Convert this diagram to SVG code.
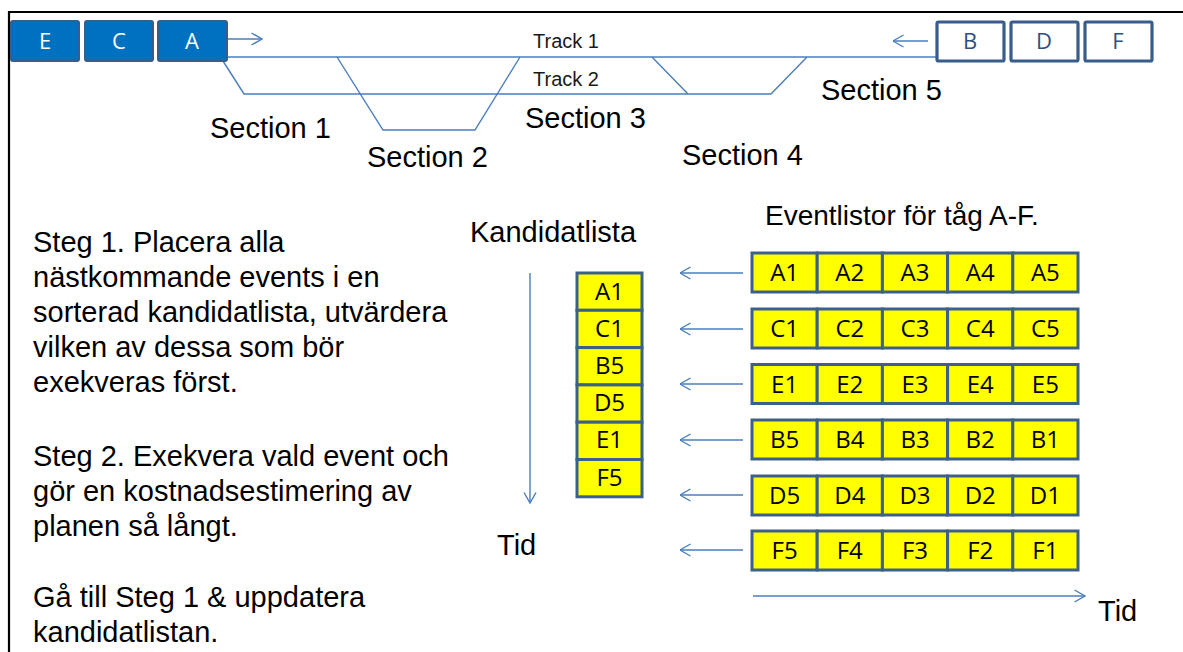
<svg xmlns="http://www.w3.org/2000/svg" width="1183" height="652" viewBox="0 0 1183 652">
<style>
.txt{font-family:"Liberation Sans",Arial,sans-serif;font-size:29px;fill:#000}
.trk{font-family:"Liberation Sans",Arial,sans-serif;font-size:20px;fill:#1a1a1a}
.ln{stroke:#4a7ebb;stroke-width:1.4;fill:none}
.arr{stroke:#4a7ebb;stroke-width:1.4;fill:none;marker-end:url(#chev)}
.bbox{fill:#0070c0;stroke:#385d8a;stroke-width:2}
.obox{fill:#fff;stroke:#385d8a;stroke-width:3.2}
.btxt{font-family:"Open Sans","Noto Sans",sans-serif;font-size:22px;fill:#fff;text-anchor:middle}
.otxt{font-family:"Open Sans","Noto Sans",sans-serif;font-size:22px;fill:#2f4f7f;text-anchor:middle}
.cell{fill:#ffff00;stroke:#3c5f8c;stroke-width:3}
.ctxt{font-family:"Open Sans","Noto Sans",sans-serif;font-size:24px;fill:#000;text-anchor:middle}
</style>
<defs>
<marker id="chev" viewBox="0 0 12 14" refX="11.5" refY="7" markerWidth="12" markerHeight="14" markerUnits="userSpaceOnUse" orient="auto">
<path d="M1,1 L11.5,7 L1,13" fill="none" stroke="#4a7ebb" stroke-width="1.4"/>
</marker>
</defs>
<rect width="1183" height="652" fill="#fff"/>
<path d="M9,652 V12 H1183" fill="none" stroke="#000" stroke-width="2.2"/>

<g id="connectors">
<path class="ln" d="M226,57 H940"/>
<path class="ln" d="M223,61 L244,94 H771 L807,57"/>
<path class="ln" d="M337,57 L383,130 H475 L520,57"/>
<path class="ln" d="M652,57 L688,94"/>
<path class="arr" d="M228,39 H262"/>
<path class="arr" d="M928,41 H893"/>
<path class="arr" d="M743,273 H680"/>
<path class="arr" d="M743,329 H680"/>
<path class="arr" d="M743,384 H680"/>
<path class="arr" d="M743,440 H680"/>
<path class="arr" d="M743,495 H680"/>
<path class="arr" d="M743,550 H680"/>
<path class="arr" d="M530,273 V503"/>
<path class="arr" d="M753,596 H1085"/>
</g>

<g id="trains-left">
<g id="train-E"><rect class="bbox" x="11" y="21" width="68" height="40" rx="2"/><text class="btxt" x="45" y="49">E</text></g>
<g id="train-C"><rect class="bbox" x="85" y="21" width="68" height="40" rx="2"/><text class="btxt" x="119" y="49">C</text></g>
<g id="train-A"><rect class="bbox" x="158" y="21" width="69" height="40" rx="2"/><text class="btxt" x="192" y="49">A</text></g>
</g>
<g id="trains-right">
<g id="train-B"><rect class="obox" x="937" y="22" width="67" height="39" rx="1.5"/><text class="otxt" x="970" y="49">B</text></g>
<g id="train-D"><rect class="obox" x="1011" y="22" width="67" height="39" rx="1.5"/><text class="otxt" x="1044" y="49">D</text></g>
<g id="train-F"><rect class="obox" x="1085" y="22" width="67" height="39" rx="1.5"/><text class="otxt" x="1118" y="49">F</text></g>
</g>

<g id="track-labels">
<text class="trk" x="533" y="48">Track 1</text>
<text class="trk" x="533" y="86">Track 2</text>
</g>
<g id="section-labels">
<text class="txt" x="210" y="138">Section 1</text>
<text class="txt" x="367" y="167">Section 2</text>
<text class="txt" x="525" y="128">Section 3</text>
<text class="txt" x="682" y="165">Section 4</text>
<text class="txt" x="821" y="100">Section 5</text>
</g>

<g id="steps">
<text class="txt" x="33" y="252">Steg 1. Placera alla</text>
<text class="txt" x="33" y="287">nästkommande events i en</text>
<text class="txt" x="33" y="322">sorterad kandidatlista, utvärdera</text>
<text class="txt" x="33" y="357">vilken av dessa som bör</text>
<text class="txt" x="33" y="392">exekveras först.</text>
<text class="txt" x="33" y="466">Steg 2. Exekvera vald event och</text>
<text class="txt" x="33" y="501">gör en kostnadsestimering av</text>
<text class="txt" x="33" y="536">planen så långt.</text>
<text class="txt" x="33" y="607">Gå till Steg 1 &amp; uppdatera</text>
<text class="txt" x="33" y="642">kandidatlistan.</text>
</g>

<g id="headers">
<text class="txt" x="470" y="242">Kandidatlista</text>
<text class="txt" x="765" y="225" style="font-size:28px">Eventlistor för tåg A-F.</text>
<text class="txt" x="497" y="555">Tid</text>
<text class="txt" x="1098" y="621">Tid</text>
</g>

<g id="kandidatlista">
<rect class="cell" x="577" y="273" width="65" height="37.3"/><text class="ctxt" x="609.5" y="300">A1</text>
<rect class="cell" x="577" y="310.3" width="65" height="37.3"/><text class="ctxt" x="609.5" y="337">C1</text>
<rect class="cell" x="577" y="347.6" width="65" height="37.3"/><text class="ctxt" x="609.5" y="374">B5</text>
<rect class="cell" x="577" y="384.9" width="65" height="37.3"/><text class="ctxt" x="609.5" y="411">D5</text>
<rect class="cell" x="577" y="422.2" width="65" height="37.3"/><text class="ctxt" x="609.5" y="448">E1</text>
<rect class="cell" x="577" y="459.5" width="65" height="37.3"/><text class="ctxt" x="609.5" y="486">F5</text>
</g>

<g id="eventlist-A">
<rect class="cell" x="752" y="253" width="65.2" height="39"/><text class="ctxt" x="784.6" y="281">A1</text>
<rect class="cell" x="817.2" y="253" width="65.2" height="39"/><text class="ctxt" x="849.8" y="281">A2</text>
<rect class="cell" x="882.4" y="253" width="65.2" height="39"/><text class="ctxt" x="915" y="281">A3</text>
<rect class="cell" x="947.6" y="253" width="65.2" height="39"/><text class="ctxt" x="980.2" y="281">A4</text>
<rect class="cell" x="1012.8" y="253" width="65.2" height="39"/><text class="ctxt" x="1045.4" y="281">A5</text>
</g>
<g id="eventlist-C">
<rect class="cell" x="752" y="309" width="65.2" height="39"/><text class="ctxt" x="784.6" y="337">C1</text>
<rect class="cell" x="817.2" y="309" width="65.2" height="39"/><text class="ctxt" x="849.8" y="337">C2</text>
<rect class="cell" x="882.4" y="309" width="65.2" height="39"/><text class="ctxt" x="915" y="337">C3</text>
<rect class="cell" x="947.6" y="309" width="65.2" height="39"/><text class="ctxt" x="980.2" y="337">C4</text>
<rect class="cell" x="1012.8" y="309" width="65.2" height="39"/><text class="ctxt" x="1045.4" y="337">C5</text>
</g>
<g id="eventlist-E">
<rect class="cell" x="752" y="364.5" width="65.2" height="39"/><text class="ctxt" x="784.6" y="392.5">E1</text>
<rect class="cell" x="817.2" y="364.5" width="65.2" height="39"/><text class="ctxt" x="849.8" y="392.5">E2</text>
<rect class="cell" x="882.4" y="364.5" width="65.2" height="39"/><text class="ctxt" x="915" y="392.5">E3</text>
<rect class="cell" x="947.6" y="364.5" width="65.2" height="39"/><text class="ctxt" x="980.2" y="392.5">E4</text>
<rect class="cell" x="1012.8" y="364.5" width="65.2" height="39"/><text class="ctxt" x="1045.4" y="392.5">E5</text>
</g>
<g id="eventlist-B">
<rect class="cell" x="752" y="420" width="65.2" height="39"/><text class="ctxt" x="784.6" y="448">B5</text>
<rect class="cell" x="817.2" y="420" width="65.2" height="39"/><text class="ctxt" x="849.8" y="448">B4</text>
<rect class="cell" x="882.4" y="420" width="65.2" height="39"/><text class="ctxt" x="915" y="448">B3</text>
<rect class="cell" x="947.6" y="420" width="65.2" height="39"/><text class="ctxt" x="980.2" y="448">B2</text>
<rect class="cell" x="1012.8" y="420" width="65.2" height="39"/><text class="ctxt" x="1045.4" y="448">B1</text>
</g>
<g id="eventlist-D">
<rect class="cell" x="752" y="476" width="65.2" height="39"/><text class="ctxt" x="784.6" y="504">D5</text>
<rect class="cell" x="817.2" y="476" width="65.2" height="39"/><text class="ctxt" x="849.8" y="504">D4</text>
<rect class="cell" x="882.4" y="476" width="65.2" height="39"/><text class="ctxt" x="915" y="504">D3</text>
<rect class="cell" x="947.6" y="476" width="65.2" height="39"/><text class="ctxt" x="980.2" y="504">D2</text>
<rect class="cell" x="1012.8" y="476" width="65.2" height="39"/><text class="ctxt" x="1045.4" y="504">D1</text>
</g>
<g id="eventlist-F">
<rect class="cell" x="752" y="531" width="65.2" height="39"/><text class="ctxt" x="784.6" y="559">F5</text>
<rect class="cell" x="817.2" y="531" width="65.2" height="39"/><text class="ctxt" x="849.8" y="559">F4</text>
<rect class="cell" x="882.4" y="531" width="65.2" height="39"/><text class="ctxt" x="915" y="559">F3</text>
<rect class="cell" x="947.6" y="531" width="65.2" height="39"/><text class="ctxt" x="980.2" y="559">F2</text>
<rect class="cell" x="1012.8" y="531" width="65.2" height="39"/><text class="ctxt" x="1045.4" y="559">F1</text>
</g>
</svg>
